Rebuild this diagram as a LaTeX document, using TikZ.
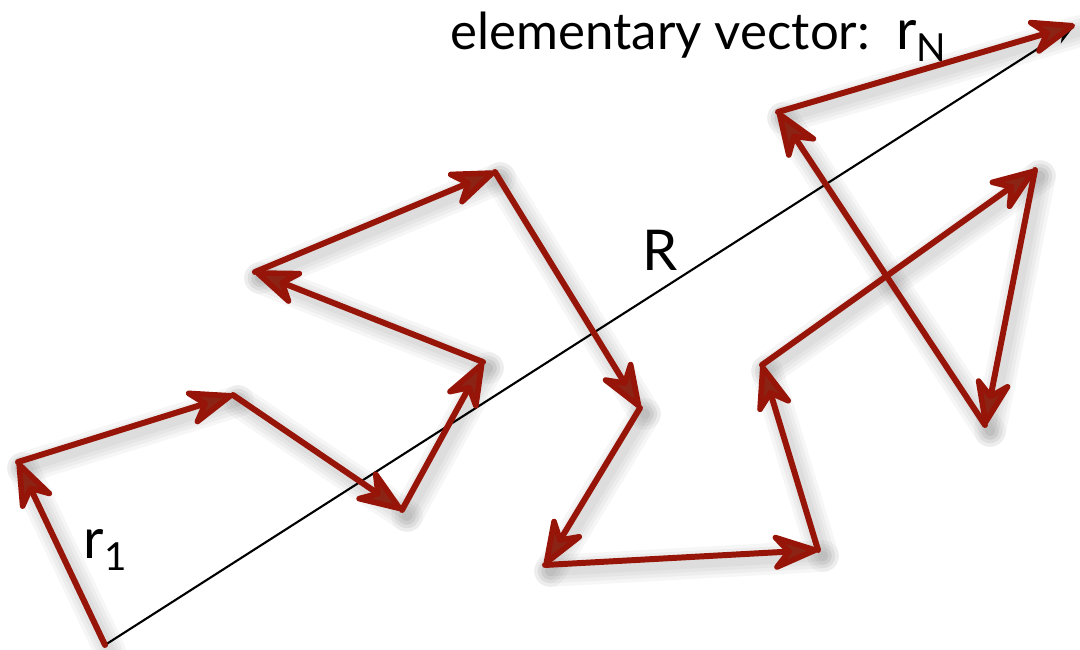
\documentclass[tikz,border=0pt]{standalone}
\usepackage{fontspec}
\setmainfont{Lato}
\usetikzlibrary{arrows.meta}

\definecolor{walkred}{RGB}{150,20,8}
\definecolor{tipred}{RGB}{140,36,22}

\tikzset{
  segment/.style={walkred, line width=1.7pt, line cap=round, line join=round,
    -{Stealth[length=0.56cm, width=0.42cm, inset=0.18cm, fill=tipred, line width=1.6pt, round]}},
  segshadow/.style={black, opacity=0.035, line cap=round},
  endtoend/.style={black, line width=0.6pt, -{Stealth[length=0.22cm, width=0.16cm]}},
  lbl/.style={inner sep=0pt, font=\fontsize{14.5pt}{16pt}\selectfont}
}

\begin{document}
\begin{tikzpicture}
  \useasboundingbox (0,0) rectangle (10.8,6.5);

  % corners of the walk
  \coordinate (p0) at (1.05,0.05);
  \coordinate (p1) at (0.18,1.88);
  \coordinate (p2) at (2.33,2.55);
  \coordinate (p3) at (4.02,1.40);
  \coordinate (p4) at (4.83,2.88);
  \coordinate (p5) at (2.55,3.78);
  \coordinate (p6) at (4.95,4.78);
  \coordinate (p7) at (6.40,2.42);
  \coordinate (p8) at (5.45,0.85);
  \coordinate (p9) at (8.18,1.00);
  \coordinate (p10) at (7.62,2.85);
  \coordinate (p11) at (10.35,4.80);
  \coordinate (p12) at (9.85,2.25);
  \coordinate (p13) at (7.78,5.38);
  \coordinate (p14) at (10.75,6.25);

  % soft shadow, a few widths stacked
  \foreach \w in {3pt,5pt,7pt,9pt} {
    \foreach \a [count=\b from 1] in {0,...,13} {
      \draw[segshadow, line width=\w, transform canvas={shift={(0.05,-0.06)}}] (p\a) -- (p\b);
    }
  }

  % end-to-end vector
  \draw[endtoend] (p0) -- (p14);

  % elementary vectors
  \foreach \a [count=\b from 1] in {0,...,13} {
    \draw[segment] (p\a) -- (p\b);
  }

  \node[lbl, anchor=base west] (title) at (4.5,6.0)
    {elementary vector:\ \ {\fontsize{16pt}{18pt}\selectfont r}\raisebox{-0.45ex}{\fontsize{11pt}{12pt}\selectfont N}};
  \node[lbl, font=\fontsize{16pt}{18pt}\selectfont] (bigR) at (6.60,4.0) {R};
  \node[lbl] (rone) at (1.05,1.0)
    {{\fontsize{16pt}{18pt}\selectfont r}\raisebox{-0.45ex}{\fontsize{11pt}{12pt}\selectfont 1}};
\end{tikzpicture}
\end{document}
